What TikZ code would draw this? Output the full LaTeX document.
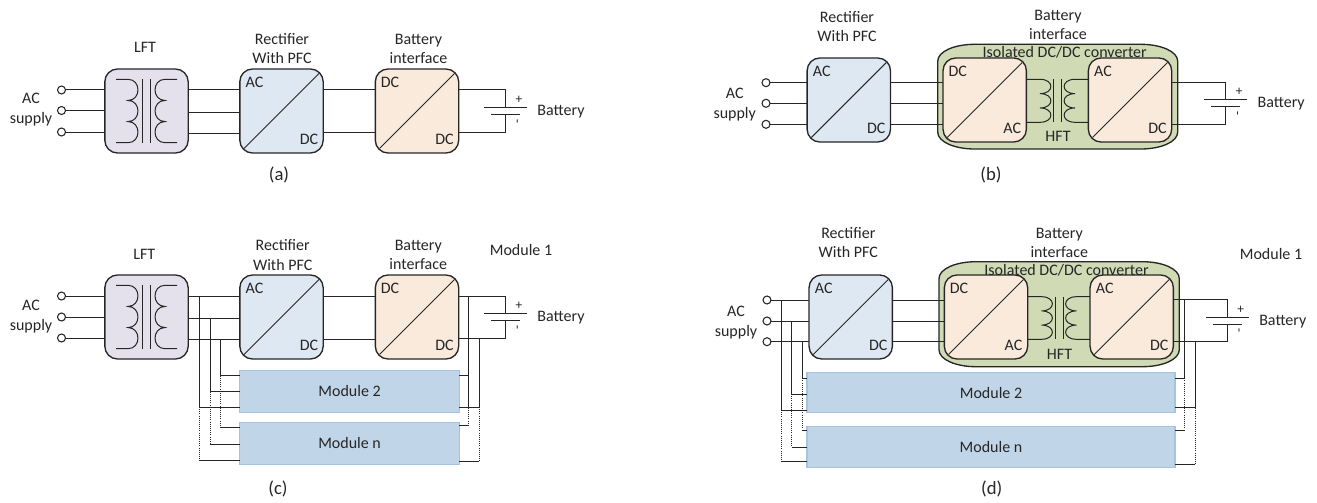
\documentclass[tikz,border=0pt]{standalone}
\usepackage{fontspec}
\setmainfont{Carlito}
\definecolor{lftc}{HTML}{E4E1EC}
\definecolor{recc}{HTML}{DEE8F2}
\definecolor{dcc}{HTML}{F9EADC}
\definecolor{grn}{HTML}{D0DAB5}
\definecolor{modc}{HTML}{C1D5E8}
\definecolor{mode}{HTML}{A5C4E2}
\definecolor{ink}{HTML}{262626}
\tikzset{
  wire/.style={draw=ink,line width=.75pt},
  dotw/.style={draw=ink,line width=.6pt,densely dotted},
  lab/.style={font=\fontsize{12}{14}\selectfont,text=ink,inner sep=0pt,text height=8.5pt,text depth=1.5pt,anchor=center},
  capt/.style={font=\fontsize{14}{16}\selectfont,text=ink,inner sep=0pt,anchor=center},
  convb/.style={draw=ink,line width=1pt,rounded corners=9.5pt,minimum width=62.5pt,minimum height=63pt,inner sep=0pt,outer sep=0pt},
  modb/.style={draw=mode,fill=modc,line width=.8pt,inner sep=0pt,outer sep=0pt,font=\fontsize{12}{14}\selectfont,text=ink},
  term/.style={circle,draw=ink,fill=white,line width=.8pt,minimum size=6pt,inner sep=0pt,outer sep=0pt},
  signp/.style={font=\fontsize{10}{12}\selectfont,text=ink,inner sep=0pt},
}
% name, cx, cy, fill, top-left label, bottom-right label
\newcommand\cbox[6]{%
  \node[convb,fill=#4] (#1) at (#2,#3) {};
  \coordinate (#1a) at ([shift={(-37.5,37.5)}]#1.center);
  \coordinate (#1b) at ([shift={(37.5,-37.5)}]#1.center);
  \draw[wire] (#1a) -- (#1b);
  \node[lab] (#1tl) at ([shift={(-27,-28)}]#1.center) {#5};
  \node[lab] (#1br) at ([shift={(27.5,28.5)}]#1.center) {#6};
}
% name, x, y1, y2, y3, target box
\newcommand\acs[6]{%
  \node[term] (#1t1) at (#2,#3) {};
  \node[term] (#1t2) at (#2,#4) {};
  \node[term] (#1t3) at (#2,#5) {};
  \draw[wire] (#1t1) -- (#1t1 -| #6.west);
  \draw[wire] (#1t2) -- (#1t2 -| #6.west);
  \draw[wire] (#1t3) -- (#1t3 -| #6.west);
}
% lead start, left junction, core 1, core 2, right junction, lead end, ytop, ybot, bulge
\newcommand\coils[9]{%
  \pgfmathsetmacro\ya{#7}\pgfmathsetmacro\yd{#8}%
  \pgfmathsetmacro\yb{\ya+(\yd-\ya)/3}\pgfmathsetmacro\yc{\ya+2*(\yd-\ya)/3}%
  \draw[wire] (#1,\ya) -- (#2,\ya)
    .. controls ({#2+#9},\ya) and ({#2+#9},\yb) .. (#2,\yb)
    .. controls ({#2+#9},\yb) and ({#2+#9},\yc) .. (#2,\yc)
    .. controls ({#2+#9},\yc) and ({#2+#9},\yd) .. (#2,\yd) -- (#1,\yd);
  \draw[wire] (#6,\ya) -- (#5,\ya)
    .. controls ({#5-#9},\ya) and ({#5-#9},\yb) .. (#5,\yb)
    .. controls ({#5-#9},\yb) and ({#5-#9},\yc) .. (#5,\yc)
    .. controls ({#5-#9},\yc) and ({#5-#9},\yd) .. (#5,\yd) -- (#6,\yd);
  \draw[wire] (#3,\ya) -- (#3,\yd);
  \draw[wire] (#4,\ya) -- (#4,\yd);
}
% name, source box, wire x, top y, long plate y, short plate y, bottom y
\newcommand\batt[7]{%
  \coordinate (#1bt) at (#3,#4);
  \coordinate (#1bb) at (#3,#7);
  \coordinate (#1pl) at (#3,#5);
  \coordinate (#1ps) at (#3,#6);
  \draw[wire] (#2.east |- #1bt) -- (#1bt) -- (#1pl);
  \draw[wire] (#2.east |- #1bb) -- (#1bb) -- (#1ps);
  \draw[wire] ([xshift=-16.1pt]#1pl) -- ([xshift=16.1pt]#1pl);
  \draw[wire] ([xshift=-10.9pt]#1ps) -- ([xshift=10.9pt]#1ps);
  \node[signp] (#1plus) at ([shift={(13.5,-7.5)}]#1pl) {+};
  \node[signp,rotate=90] (#1minus) at ([shift={(13.5,6.5)}]#1ps) {-};
  \node[lab] (#1blab) at ([shift={(55.5,3.5)}]#1pl) {Battery};
}
% x1,y1,x2,y2
\newcommand\greenb[4]{%
  \draw[draw=ink,line width=1pt,fill=grn]
    (#1,{#2+17}) .. controls (#1,{#2+7}) and ({#1+17},#2) .. ({#1+37},#2)
    -- ({#3-37},#2) .. controls ({#3-17},#2) and (#3,{#2+7}) .. (#3,{#2+17})
    -- (#3,{#4-17}) .. controls (#3,{#4-7}) and ({#3-17},#4) .. ({#3-37},#4)
    -- ({#1+37},#4) .. controls ({#1+17},#4) and (#1,{#4-7}) .. (#1,{#4-17}) -- cycle;
}
% box a, box b, y
\newcommand\hw[3]{\draw[wire] (#1.east |- 0,#3) -- (#2.west |- 0,#3);}
% x, y0, y1, y2, m2, mn
\newcommand\lris[6]{%
  \coordinate (ra) at (#1,#2);\coordinate (rb) at (#1,#3);\coordinate (rc) at (#1,#4);
  \draw[wire] (ra) -- (rb) -- (rb -| #5.west);
  \draw[dotw] (rb) -- (rc);
  \draw[wire] (rc) -- (rc -| #6.west);
}
\newcommand\rris[6]{%
  \coordinate (ra) at (#1,#2);\coordinate (rb) at (#1,#3);\coordinate (rc) at (#1,#4);
  \draw[wire] (ra) -- (rb) -- (rb -| #5.east);
  \draw[dotw] (rb) -- (rc);
  \draw[wire] (rc) -- (rc -| #6.east);
}
\begin{document}
\begin{tikzpicture}[x=.75pt,y=-.75pt]
\useasboundingbox (0,0) rectangle (1317,503);
\fill[white] (0,0) rectangle (1317,503);

% ---------- (a)
\node[convb,fill=lftc] (aL) at (146.5,111) {};
\cbox{aR}{281.5}{111}{recc}{AC}{DC}
\cbox{aD}{417}{111}{dcc}{DC}{DC}
\coils{116}{128}{142.7}{150.7}{165}{177}{79.3}{142.7}{13.3}
\acs{a}{61.5}{90}{110.5}{132}{aL}
\hw{aL}{aR}{90}\hw{aL}{aR}{112}\hw{aL}{aR}{133}
\hw{aR}{aD}{90}\hw{aR}{aD}{132.5}
\batt{a}{aD}{505.5}{89.5}{107.5}{114.5}{132}
\node[lab] (aT1) at (145,48) {LFT};
\node[lab] (aT2) at (282,40) {Rectifier};
\node[lab] (aT3) at (282,59) {With PFC};
\node[lab] (aT4) at (418.5,39.5) {Battery};
\node[lab] (aT5) at (418.5,59) {interface};
\node[lab] (aT6) at (31,99) {AC};
\node[lab] (aT7) at (31,119) {supply};
\node[capt] (aT8) at (279,175) {(a)};

% ---------- (b)
\greenb{937.7}{44.3}{1177.7}{149}
\cbox{bR}{848.8}{100}{recc}{AC}{DC}
\cbox{bD}{984.7}{100}{dcc}{DC}{AC}
\cbox{bA}{1130}{100}{dcc}{AC}{DC}
\acs{b}{766}{82.7}{103.3}{124.3}{bR}
\hw{bR}{bD}{82.7}\hw{bR}{bD}{103.3}\hw{bR}{bD}{124.3}
\coils{1026}{1040}{1053.3}{1061.7}{1075}{1088.3}{79.3}{122.3}{14.5}
\batt{b}{bA}{1225.7}{82.3}{99.7}{106.7}{124}
\node[lab] (bT1) at (1064.7,53) {Isolated DC/DC converter};
\node[lab] (bT2) at (1058,137) {HFT};
\node[lab] (bT3) at (847,18) {Rectifier};
\node[lab] (bT4) at (847,37) {With PFC};
\node[lab] (bT5) at (1058,16) {Battery};
\node[lab] (bT6) at (1058,35) {interface};
\node[lab] (bT7) at (734.7,94) {AC};
\node[lab] (bT8) at (734.7,113.5) {supply};
\node[capt] (bT9) at (991,175) {(b)};

% ---------- (c)
\node[convb,fill=lftc] (cL) at (146.5,317) {};
\cbox{cR}{281.5}{317}{recc}{AC}{DC}
\cbox{cD}{417}{317}{dcc}{DC}{DC}
\coils{116}{128}{142.7}{150.7}{165}{177}{285.3}{348.7}{13.3}
\acs{c}{61.5}{296}{317}{338}{cL}
\hw{cL}{cR}{296}\hw{cL}{cR}{318.3}\hw{cL}{cR}{339.3}
\hw{cR}{cD}{296}\hw{cR}{cD}{339}
\batt{c}{cD}{505.5}{296}{313.3}{320.7}{338.3}
\node[modb,minimum width=164.5pt,minimum height=31.5pt] (cM2) at (349.6,391.3) {Module 2};
\node[modb,minimum width=164.5pt,minimum height=31.5pt] (cMn) at (349.6,443.3) {Module n};
\lris{199.3}{296}{407}{460}{cM2}{cMn}
\lris{210}{318.3}{391.7}{444}{cM2}{cMn}
\lris{220.7}{339.3}{375.7}{427.7}{cM2}{cMn}
\rris{468.3}{296}{375.7}{425.7}{cM2}{cMn}
\draw[wire] (468.3,375.7) -- (468.3,407);
\rris{479}{338.3}{407}{461.7}{cM2}{cMn}
\node[lab] (cT1) at (144.3,255) {LFT};
\node[lab] (cT2) at (282.7,246) {Rectifier};
\node[lab] (cT3) at (282.7,265.7) {With PFC};
\node[lab] (cT4) at (418.3,246) {Battery};
\node[lab] (cT5) at (418.3,265) {interface};
\node[lab] (cT6) at (521,250.7) {Module 1};
\node[lab] (cT7) at (31,306) {AC};
\node[lab] (cT8) at (31,325.7) {supply};
\node[capt] (cT9) at (278,489) {(c)};

% ---------- (d)
\greenb{939}{261.7}{1179.3}{366.7}
\cbox{dR}{850.7}{317}{recc}{AC}{DC}
\cbox{dD}{986}{317}{dcc}{DC}{AC}
\cbox{dA}{1131.7}{317}{dcc}{AC}{DC}
\acs{d}{767}{300}{321}{341.7}{dR}
\hw{dR}{dD}{300}\hw{dR}{dD}{321}\hw{dR}{dD}{341.7}
\coils{1027.7}{1041.5}{1055}{1063.3}{1076.5}{1090}{296.7}{339.3}{14.5}
\batt{d}{dA}{1227.3}{299.7}{317.3}{324.3}{341.3}
\node[modb,minimum width=276pt,minimum height=30pt] (dM2) at (991,392.7) {Module 2};
\node[modb,minimum width=276pt,minimum height=31pt] (dMn) at (991,446.7) {Module n};
\lris{781.3}{300}{410}{461.7}{dM2}{dMn}
\lris{791.7}{321}{394}{447}{dM2}{dMn}
\lris{802}{341.7}{378.3}{430.3}{dM2}{dMn}
\rris{1184.3}{299.7}{378.3}{430.3}{dM2}{dMn}
\rris{1195}{341.3}{407.7}{464}{dM2}{dMn}
\node[lab] (dT1) at (1066.5,270.5) {Isolated DC/DC converter};
\node[lab] (dT2) at (1059.5,354.5) {HFT};
\node[lab] (dT3) at (848.3,234) {Rectifier};
\node[lab] (dT4) at (848.3,252.7) {With PFC};
\node[lab] (dT5) at (1059.3,234.3) {Battery};
\node[lab] (dT6) at (1059.3,253.3) {interface};
\node[lab] (dT7) at (1271,255) {Module 1};
\node[lab] (dT8) at (736,311.7) {AC};
\node[lab] (dT9) at (736,331.5) {supply};
\node[capt] (dT10) at (991.7,489) {(d)};
\end{tikzpicture}
\end{document}
